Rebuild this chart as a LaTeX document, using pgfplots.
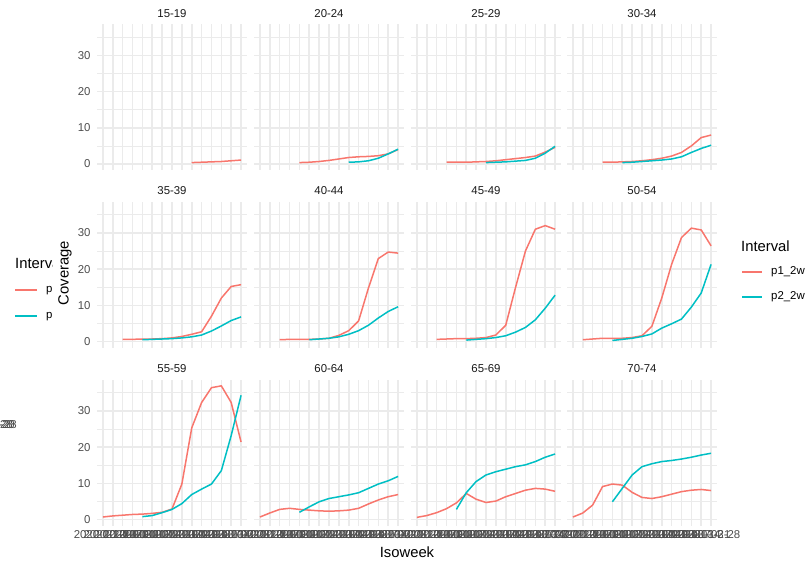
\documentclass[border=0pt]{standalone}
\usepackage{fontspec}
\setmainfont{Liberation Sans}
\usepackage{pgfplots}
\pgfplotsset{compat=1.18}
\definecolor{redc}{HTML}{F8766D}
\definecolor{tealc}{HTML}{00BFC4}
\definecolor{gridc}{HTML}{EBEBEB}
\definecolor{tickc}{HTML}{4D4D4D}
\definecolor{stripc}{HTML}{1A1A1A}
\newcommand{\fs}{\fontsize{11.4}{13}\selectfont}
\newcommand{\fl}{\fontsize{14.8}{17}\selectfont}
\pgfplotsset{
 every axis title shift=0pt,
 facet/.style={
  scale only axis, width=150pt, height=146pt, anchor=south west,
  xmin=-0.6, xmax=14.6, ymin=-1.7, ymax=38.6,
  xtick={0,...,14}, ytick={0,10,20,30}, minor ytick={5,15,25,35},
  grid=both,
  major grid style={gridc, line width=1.6pt},
  minor grid style={gridc, line width=0.8pt},
  axis line style={draw=none},
  tick style={draw=none},
  major tick length=0pt, minor tick length=0pt,
  xticklabels={}, yticklabels={},
  title style={at={(0.5,1)}, anchor=base, yshift=7pt, font=\fs, text=stripc},
  yticklabel style={font=\fs, text=tickc, xshift=-3pt},
  xticklabel style={font=\fs, text=tickc, yshift=-1.5pt},
  every axis plot/.append style={line width=1.5pt, line join=round, no markers},
 },
 yl/.style={yticklabels={0,10,20,30}},
 xl/.style={xticklabels={2020-12-20,2020-12-27,2021-01-03,2021-01-10,2021-01-17,2021-01-24,2021-01-31,2021-02-07,2021-02-14,2021-02-21,2021-02-28,2021-03-07,2021-03-14,2021-03-21,2021-03-28}},
}
\begin{document}
\begin{tikzpicture}
\path[use as bounding box] (0pt,0pt) rectangle (810pt,567pt);
% Row 1
\begin{axis}[facet, yl, at={(97pt,396.8pt)}, title={15-19}]
\addplot[redc] coordinates {(9,0.4)(10,0.5)(11,0.6)(12,0.7)(13,0.9)(14,1.1)};
\end{axis}
\begin{axis}[facet, at={(254pt,396.8pt)}, title={20-24}]
\addplot[redc] coordinates {(4,0.4)(5,0.5)(6,0.7)(7,1.0)(8,1.4)(9,1.8)(10,2.0)(11,2.1)(12,2.3)(13,2.8)(14,4.0)};
\addplot[tealc] coordinates {(9,0.5)(10,0.6)(11,0.9)(12,1.6)(13,2.8)(14,4.1)};
\end{axis}
\begin{axis}[facet, at={(411pt,396.8pt)}, title={25-29}]
\addplot[redc] coordinates {(3,0.5)(4,0.5)(5,0.5)(6,0.6)(7,0.7)(8,0.9)(9,1.2)(10,1.5)(11,1.8)(12,2.2)(13,3.3)(14,4.6)};
\addplot[tealc] coordinates {(7,0.4)(8,0.5)(9,0.6)(10,0.8)(11,1.0)(12,1.6)(13,3.0)(14,4.9)};
\end{axis}
\begin{axis}[facet, at={(567pt,396.8pt)}, title={30-34}]
\addplot[redc] coordinates {(3,0.5)(4,0.5)(5,0.6)(6,0.7)(7,0.9)(8,1.2)(9,1.6)(10,2.2)(11,3.2)(12,5.0)(13,7.3)(14,8.0)};
\addplot[tealc] coordinates {(5,0.4)(6,0.5)(7,0.7)(8,0.9)(9,1.1)(10,1.4)(11,2.0)(12,3.2)(13,4.3)(14,5.2)};
\end{axis}
% Row 2
\begin{axis}[facet, yl, at={(97pt,219.3pt)}, title={35-39}]
\addplot[redc] coordinates {(2,0.6)(3,0.6)(4,0.7)(5,0.7)(6,0.8)(7,1.0)(8,1.4)(9,2.0)(10,2.7)(11,7.0)(12,12.0)(13,15.2)(14,15.7)};
\addplot[tealc] coordinates {(4,0.5)(5,0.6)(6,0.7)(7,0.8)(8,1.0)(9,1.3)(10,1.8)(11,2.9)(12,4.3)(13,5.8)(14,6.8)};
\end{axis}
\begin{axis}[facet, at={(254pt,219.3pt)}, title={40-44}]
\addplot[redc] coordinates {(2,0.5)(3,0.6)(4,0.6)(5,0.6)(6,0.7)(7,0.9)(8,1.7)(9,3.0)(10,5.7)(11,14.8)(12,22.9)(13,24.7)(14,24.4)};
\addplot[tealc] coordinates {(5,0.5)(6,0.7)(7,0.9)(8,1.3)(9,2.0)(10,3.0)(11,4.5)(12,6.5)(13,8.3)(14,9.6)};
\end{axis}
\begin{axis}[facet, at={(411pt,219.3pt)}, title={45-49}]
\addplot[redc] coordinates {(2,0.6)(3,0.7)(4,0.8)(5,0.8)(6,0.9)(7,1.1)(8,1.8)(9,4.5)(10,15.0)(11,25.0)(12,31.0)(13,32.0)(14,31.0)};
\addplot[tealc] coordinates {(5,0.4)(6,0.6)(7,0.8)(8,1.1)(9,1.6)(10,2.6)(11,3.9)(12,6.0)(13,9.2)(14,12.8)};
\end{axis}
\begin{axis}[facet, at={(567pt,219.3pt)}, title={50-54}]
\addplot[redc] coordinates {(1,0.5)(2,0.7)(3,0.9)(4,0.9)(5,0.9)(6,1.1)(7,1.6)(8,4.2)(9,12.0)(10,21.3)(11,28.7)(12,31.3)(13,30.8)(14,26.4)};
\addplot[tealc] coordinates {(4,0.3)(5,0.6)(6,0.9)(7,1.4)(8,2.1)(9,3.7)(10,4.9)(11,6.2)(12,9.5)(13,13.4)(14,21.3)};
\end{axis}
% Row 3
\begin{axis}[facet, yl, xl, at={(97pt,41.3pt)}, title={55-59}]
\addplot[redc] coordinates {(0,0.7)(1,1.0)(2,1.2)(3,1.4)(4,1.5)(5,1.7)(6,2.0)(7,2.9)(8,9.8)(9,25.3)(10,32.3)(11,36.4)(12,36.9)(13,32.3)(14,21.4)};
\addplot[tealc] coordinates {(4,0.8)(5,1.1)(6,1.9)(7,2.8)(8,4.4)(9,6.9)(10,8.4)(11,9.8)(12,13.5)(13,23.2)(14,34.3)};
\end{axis}
\begin{axis}[facet, xl, at={(254pt,41.3pt)}, title={60-64}]
\addplot[redc] coordinates {(0,0.7)(1,1.8)(2,2.8)(3,3.1)(4,2.8)(5,2.6)(6,2.4)(7,2.3)(8,2.4)(9,2.6)(10,3.1)(11,4.3)(12,5.4)(13,6.3)(14,6.9)};
\addplot[tealc] coordinates {(4,2.0)(5,3.5)(6,4.9)(7,5.8)(8,6.3)(9,6.8)(10,7.4)(11,8.6)(12,9.8)(13,10.7)(14,11.9)};
\end{axis}
\begin{axis}[facet, xl, at={(411pt,41.3pt)}, title={65-69}]
\addplot[redc] coordinates {(0,0.6)(1,1.1)(2,1.9)(3,3.0)(4,4.6)(5,7.2)(6,5.6)(7,4.7)(8,5.1)(9,6.3)(10,7.2)(11,8.1)(12,8.6)(13,8.4)(14,7.8)};
\addplot[tealc] coordinates {(4,2.8)(5,7.4)(6,10.5)(7,12.3)(8,13.2)(9,13.9)(10,14.6)(11,15.1)(12,16.0)(13,17.2)(14,18.1)};
\end{axis}
\begin{axis}[facet, xl, at={(567pt,41.3pt)}, title={70-74}]
\addplot[redc] coordinates {(0,0.7)(1,1.8)(2,4.0)(3,9.1)(4,9.8)(5,9.5)(6,7.5)(7,6.1)(8,5.8)(9,6.3)(10,7.0)(11,7.7)(12,8.1)(13,8.3)(14,8.0)};
\addplot[tealc] coordinates {(4,4.9)(5,8.6)(6,12.3)(7,14.6)(8,15.4)(9,16.0)(10,16.3)(11,16.7)(12,17.2)(13,17.8)(14,18.3)};
\end{axis}
% axis titles
\node[font=\fl, rotate=90] at (65pt,294pt) {Coverage};
\node[font=\fl] at (407pt,15pt) {Isoweek};
% right legend
\node[font=\fl, anchor=west, inner sep=0pt] at (741pt,321pt) {Interval};
\draw[redc, line width=1.5pt] (742pt,295pt) -- (762pt,295pt);
\node[font=\fs, anchor=west, inner sep=0pt] at (771pt,295pt) {p1\_2w};
\draw[tealc, line width=1.5pt] (742pt,270pt) -- (762pt,270pt);
\node[font=\fs, anchor=west, inner sep=0pt] at (771pt,270pt) {p2\_2w};
% clipped left legend
\begin{scope}
\clip (0pt,0pt) rectangle (52pt,567pt);
\node[font=\fl, anchor=west, inner sep=0pt] at (15pt,304pt) {Interval};
\draw[redc, line width=1.5pt] (15pt,277pt) -- (37pt,277pt);
\node[font=\fs, anchor=west, inner sep=0pt] at (46pt,277pt) {p1\_2w};
\draw[tealc, line width=1.5pt] (15pt,251pt) -- (37pt,251pt);
\node[font=\fs, anchor=west, inner sep=0pt] at (46pt,251pt) {p2\_2w};
\end{scope}
% garbled leftover label
\node[font=\fs, text=tickc, anchor=east, inner sep=0pt] at (17pt,142pt) {2021-03-28};
\node[font=\fs, text=tickc, anchor=east, inner sep=0pt] at (15pt,142pt) {2020-12-20};
\node[font=\fs, text=tickc, anchor=east, inner sep=0pt] at (13pt,142pt) {2021-01-28};
\end{tikzpicture}
\end{document}
